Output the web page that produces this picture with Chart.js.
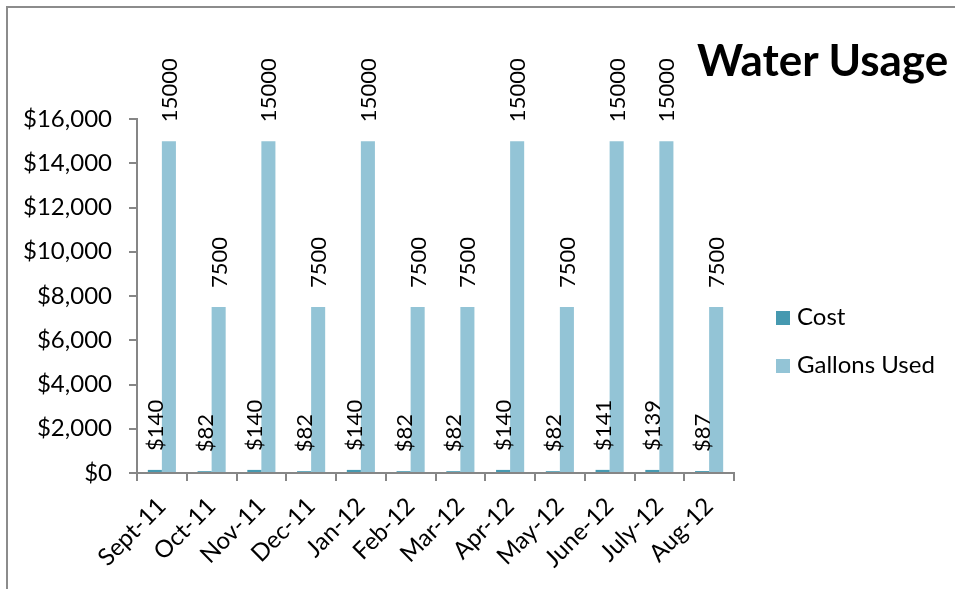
<!DOCTYPE html>
<html>
<head>
<meta charset="utf-8">
<script src="https://cdn.jsdelivr.net/npm/chart.js@4.4.0/dist/chart.umd.min.js"></script>
<style>
  html, body { margin: 0; padding: 0; background: #fff; }
  #wrap { position: relative; width: 955px; height: 589px; overflow: hidden; font-family: Lato, sans-serif; }
  #frame { position: absolute; left: 6px; top: 6px; width: 1000px; height: 700px; border: 2px solid #8c8c8c; box-sizing: border-box; }
  #chart { position: absolute; left: 0; top: 0; }
  #title { position: absolute; left: 697px; top: 34px; font-size: 44px; font-weight: bold; color: #000; white-space: nowrap; line-height: 50px; }
  .leg { position: absolute; left: 776px; font-size: 24px; color: #000; white-space: nowrap; line-height: 28px; }
  .leg span { display: inline-block; width: 14px; height: 14px; margin-right: 7px; vertical-align: 0px; }
</style>
</head>
<body>
<div id="wrap">
  <div id="frame"></div>
  <canvas id="chart" width="955" height="589"></canvas>
  <div id="title">Water Usage</div>
  <div class="leg" style="top:302px"><span style="background:#4699B0"></span>Cost</div>
  <div class="leg" style="top:350px"><span style="background:#93C4D6"></span>Gallons Used</div>
</div>
<script>
// Water usage chart - monthly cost and gallons used

const months = ['Sept-11', 'Oct-11', 'Nov-11', 'Dec-11', 'Jan-12', 'Feb-12',
    'Mar-12', 'Apr-12', 'May-12', 'June-12', 'July-12', 'Aug-12'];
const costValues = [140, 82, 140, 82, 140, 82, 82, 140, 82, 141, 139, 87];
const gallonValues = [15000, 7500, 15000, 7500, 15000, 7500, 7500, 15000, 7500, 15000, 15000, 7500];
const yTicks = [0, 2000, 4000, 6000, 8000, 10000, 12000, 14000, 16000];

const costColor = '#4699B0';
const gallonColor = '#93C4D6';
const axisColor = '#868686';
const fontFamily = 'Lato, sans-serif';

/**
 * Draws rotated value labels above each bar
 */
const barLabels = {
    id: 'barLabels',
    afterDatasetsDraw(chart) {
        const ctx = chart.ctx;
        ctx.save();
        ctx.font = `22px ${fontFamily}`;
        ctx.fillStyle = '#000';
        ctx.textAlign = 'left';
        ctx.textBaseline = 'middle';
        chart.data.datasets.forEach((ds, i) => {
            const meta = chart.getDatasetMeta(i);
            meta.data.forEach((bar, j) => {
                const text = i === 0 ? '$' + ds.data[j] : String(ds.data[j]);
                ctx.save();
                ctx.translate(bar.x + 1, bar.y - 19);
                ctx.rotate(-Math.PI / 2);
                ctx.fillText(text, 0, 0);
                ctx.restore();
            });
        });
        ctx.restore();
    }
};

new Chart(document.getElementById('chart'), {
    type: 'bar',
    data: {
        labels: months,
        datasets: [
            {
                label: 'Cost',
                data: costValues,
                backgroundColor: costColor,
                categoryPercentage: 0.565,
                barPercentage: 1
            },
            {
                label: 'Gallons Used',
                data: gallonValues,
                backgroundColor: gallonColor,
                categoryPercentage: 0.565,
                barPercentage: 1
            }
        ]
    },
    options: {
        responsive: false,
        animation: false,
        layout: {
            padding: { left: 10, top: 119, right: 221, bottom: 0 }
        },
        scales: {
            x: {
                afterFit: s => { s.height = 116; },
                grid: {
                    drawOnChartArea: false,
                    color: axisColor,
                    tickLength: 8,
                    lineWidth: 2
                },
                border: { color: axisColor, width: 2 },
                ticks: {
                    color: '#000',
                    font: { family: fontFamily, size: 24 },
                    minRotation: 45,
                    maxRotation: 45,
                    padding: 11
                }
            },
            y: {
                min: 0,
                max: 16000,
                afterFit: s => { s.width = 127; },
                afterBuildTicks: s => { s.ticks = yTicks.map(v => ({ value: v })); },
                grid: {
                    drawOnChartArea: false,
                    color: axisColor,
                    tickLength: 8,
                    lineWidth: 2
                },
                border: { color: axisColor, width: 2 },
                ticks: {
                    color: '#000',
                    font: { family: fontFamily, size: 24 },
                    padding: 17,
                    callback: v => '$' + v.toLocaleString('en-US')
                }
            }
        },
        plugins: {
            legend: { display: false },
            title: { display: false },
            tooltip: { enabled: false }
        }
    },
    plugins: [barLabels]
});
</script>
</body>
</html>
